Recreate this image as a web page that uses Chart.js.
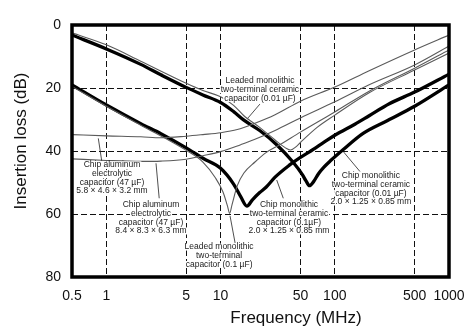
<!DOCTYPE html>
<html>
<head>
<meta charset="utf-8">
<title>Insertion loss vs frequency</title>
<script src="https://cdn.jsdelivr.net/npm/chart.js@4.4.1/dist/chart.umd.min.js"></script>
<style>
  html, body { margin: 0; padding: 0; background: #fff; }
  #wrap { width: 476px; height: 335px; }
</style>
</head>
<body>
<div id="wrap"><canvas id="lossChart" width="476" height="335"></canvas></div>
<script>
// values: frequency in MHz, insertion loss in dB
const chip001Freq = [0.5, 1, 2, 3, 5, 7, 10, 13, 16, 22, 31, 43, 52, 56, 60, 65, 72, 80, 91, 118, 177, 290, 500, 1000];
const chip001Loss = [3.2, 7.6, 12.5, 15.8, 19.8, 22.2, 24.6, 27.5, 30.2, 33.5, 38, 43.5, 47.5, 49.5, 51, 49.8, 47.2, 45.2, 43.2, 39.6, 34.4, 30.3, 25.8, 19];

const chip01Freq = [0.5, 1, 2, 3, 5, 7, 10, 13, 15, 17, 19, 22, 25, 30, 40, 50, 60, 80, 100, 150, 200, 300, 500, 1000];
const chip01Loss = [19, 25.4, 31.3, 34.5, 39, 42.3, 45.5, 50.5, 54.5, 57.5, 55.5, 53.2, 51.5, 48.3, 44.5, 42, 40.3, 37.3, 35, 31.5, 28.8, 25, 21.3, 15.6];

const leaded001Freq = [0.5, 1, 2, 5, 7, 10, 13, 16, 22, 30, 37, 41, 46, 50, 70, 100, 200, 500, 1000];
const leaded001Loss = [2.5, 6.3, 11.5, 18.5, 20.8, 22.8, 25.5, 28.8, 32.5, 36.5, 39, 39.7, 38.6, 37.3, 32.5, 28.6, 21.5, 14.3, 8.9];

const leaded01Freq = [0.5, 1, 2, 5, 7, 9, 10.5, 11.5, 12, 12.6, 14, 16, 20, 25, 33, 50, 100, 200, 500, 1000];
const leaded01Loss = [19.5, 25.8, 31.8, 39.8, 43.5, 48.5, 53, 57.5, 59.8, 57, 51, 47, 43.5, 40.5, 38, 34, 27.6, 21, 13.7, 7.9];

const aluSmallFreq = [0.5, 1, 2, 3, 5, 7, 10, 14, 20, 30, 50, 100, 200, 500, 1000];
const aluSmallLoss = [34.8, 35.2, 35.5, 35.8, 35.3, 34.8, 34.2, 33.2, 31.2, 28.5, 24.2, 19.7, 14.5, 7.9, 3.2];

const aluLargeFreq = [0.5, 1, 2, 3, 5, 7, 10, 15, 20, 30, 50, 100, 200, 500, 1000];
const aluLargeLoss = [42.5, 43, 43.3, 43.2, 42.6, 41.5, 40.2, 38, 36.3, 33.5, 29.5, 24.4, 19, 12.7, 6.7];

const freqTicks = [0.5, 1, 5, 10, 50, 100, 500, 1000];
const freqGrid = [1, 5, 10, 50, 100, 500];
const lossTicks = [0, 20, 40, 60, 80];
const lossGrid = [20, 40, 60];

const xTitle = 'Frequency (MHz)';
const yTitle = 'Insertion loss (dB)';

const noteTexts = [
  ['Leaded monolithic', 'two-terminal ceramic', 'capacitor (0.01 µF)'],
  ['Chip aluminum', 'electrolytic', 'capacitor (47 µF)', '5.8 × 4.6 × 3.2 mm'],
  ['Chip aluminum', 'electrolytic', 'capacitor (47 µF)', '8.4 × 8.3 × 6.3 mm'],
  ['Leaded monolithic', 'two-terminal', 'capacitor (0.1 µF)'],
  ['Chip monolithic', 'two-terminal ceramic', 'capacitor (0.1µF)', '2.0 × 1.25 × 0.85 mm'],
  ['Chip monolithic', 'two-terminal ceramic', 'capacitor (0.01 µF)', '2.0 × 1.25 × 0.85 mm']
];

// where the notes sit (first line centre) and their leader lines, in axis units
const notePlaces = [
  { f: 22.1, db: 17.8 },
  { f: 1.12, db: 44.4 },
  { f: 2.46, db: 57.1 },
  { f: 9.7, db: 70.5 },
  { f: 39.7, db: 57.1 },
  { f: 207, db: 47.9 }
];
const leaders = [
  [22.1, 25.1, 17.4, 29.5],
  [0.85, 36, 0.91, 43.1],
  [2.72, 43.9, 2.9, 55],
  [12.1, 60.6, 13.4, 69.2],
  [31, 49.2, 35.4, 55],
  [118.8, 40.2, 166, 46.5]
];

const fontFamily = '"Liberation Sans", Arial, Helvetica, sans-serif';
let lossChart;

document.addEventListener('DOMContentLoaded', () => {
  inicializarGrafico();
});

function serie(freq, loss) {
  return freq.map((f, i) => ({ x: f, y: loss[i] }));
}

function linea(label, freq, loss, thick) {
  return {
    label: label,
    data: serie(freq, loss),
    borderColor: thick ? '#000' : '#5a5a5a',
    borderWidth: thick ? 3.3 : 1.1,
    pointRadius: 0,
    fill: false,
    cubicInterpolationMode: 'monotone'
  };
}

const notesPlugin = {
  id: 'notes',
  afterDatasetsDraw(chart) {
    const { ctx, scales } = chart;
    const x = scales.x, y = scales.y;
    ctx.save();
    ctx.strokeStyle = '#222';
    ctx.lineWidth = 0.8;
    leaders.forEach(l => {
      ctx.beginPath();
      ctx.moveTo(x.getPixelForValue(l[0]), y.getPixelForValue(l[1]));
      ctx.lineTo(x.getPixelForValue(l[2]), y.getPixelForValue(l[3]));
      ctx.stroke();
    });
    ctx.font = '8.5px ' + fontFamily;
    ctx.textAlign = 'center';
    ctx.textBaseline = 'middle';
    noteTexts.forEach((lines, i) => {
      const cx = x.getPixelForValue(notePlaces[i].f);
      const cy = y.getPixelForValue(notePlaces[i].db);
      lines.forEach((t, j) => {
        const ty = cy + j * 8.7;
        const w = ctx.measureText(t).width;
        ctx.fillStyle = '#fff';
        ctx.fillRect(cx - w / 2 - 1, ty - 3.5, w + 2, 7);
        ctx.fillStyle = '#222';
        ctx.fillText(t, cx, ty);
      });
    });
    ctx.restore();
  },
  afterDraw(chart) {
    const { ctx, chartArea } = chart;
    ctx.save();
    // heavy frame round the plot
    ctx.strokeStyle = '#000';
    ctx.lineWidth = 3.5;
    ctx.strokeRect(chartArea.left, chartArea.top, chartArea.right - chartArea.left, chartArea.bottom - chartArea.top);
    ctx.fillStyle = '#111';
    ctx.font = '17px ' + fontFamily;
    ctx.textAlign = 'center';
    ctx.textBaseline = 'middle';
    ctx.fillText(xTitle, chartArea.left + 224, chartArea.bottom + 41);
    ctx.translate(21, chartArea.top + 116);
    ctx.rotate(-Math.PI / 2);
    ctx.fillText(yTitle, 0, 0);
    ctx.restore();
  }
};

function inicializarGrafico() {
  const ctx = document.getElementById('lossChart').getContext('2d');
  lossChart = new Chart(ctx, {
    type: 'line',
    data: {
      datasets: [
        linea('Chip aluminum 47 µF 5.8×4.6×3.2', aluSmallFreq, aluSmallLoss, false),
        linea('Chip aluminum 47 µF 8.4×8.3×6.3', aluLargeFreq, aluLargeLoss, false),
        linea('Leaded monolithic 0.01 µF', leaded001Freq, leaded001Loss, false),
        linea('Leaded monolithic 0.1 µF', leaded01Freq, leaded01Loss, false),
        linea('Chip monolithic 0.01 µF', chip001Freq, chip001Loss, true),
        linea('Chip monolithic 0.1 µF', chip01Freq, chip01Loss, true)
      ]
    },
    plugins: [notesPlugin],
    options: {
      responsive: false,
      animation: false,
      events: [],
      layout: { padding: { left: 0, top: 25, right: 27, bottom: 0 } },
      plugins: {
        legend: { display: false },
        tooltip: { enabled: false }
      },
      scales: {
        x: {
          type: 'logarithmic',
          min: 0.5,
          max: 1000,
          afterBuildTicks: (s) => { s.ticks = freqTicks.map(v => ({ value: v })); },
          afterFit: (s) => { s.height = 58; },
          ticks: {
            callback: (v) => String(v),
            autoSkip: false,
            maxRotation: 0,
            padding: 11,
            color: '#111',
            font: { family: fontFamily, size: 14 }
          },
          grid: {
            color: (c) => (c.tick && freqGrid.includes(c.tick.value)) ? '#111' : 'rgba(0,0,0,0)',
            lineWidth: 1,
            drawTicks: false
          },
          border: { display: false, dash: [6, 3] }
        },
        y: {
          type: 'linear',
          reverse: true,
          min: 0,
          max: 80,
          afterBuildTicks: (s) => { s.ticks = lossTicks.map(v => ({ value: v })); },
          afterFit: (s) => { s.width = 72; },
          ticks: {
            callback: (v) => String(v),
            padding: 11,
            color: '#111',
            font: { family: fontFamily, size: 14 }
          },
          grid: {
            color: (c) => (c.tick && lossGrid.includes(c.tick.value)) ? '#111' : 'rgba(0,0,0,0)',
            lineWidth: 1,
            drawTicks: false
          },
          border: { display: false, dash: [6, 3] }
        }
      }
    }
  });
}
</script>
</body>
</html>
